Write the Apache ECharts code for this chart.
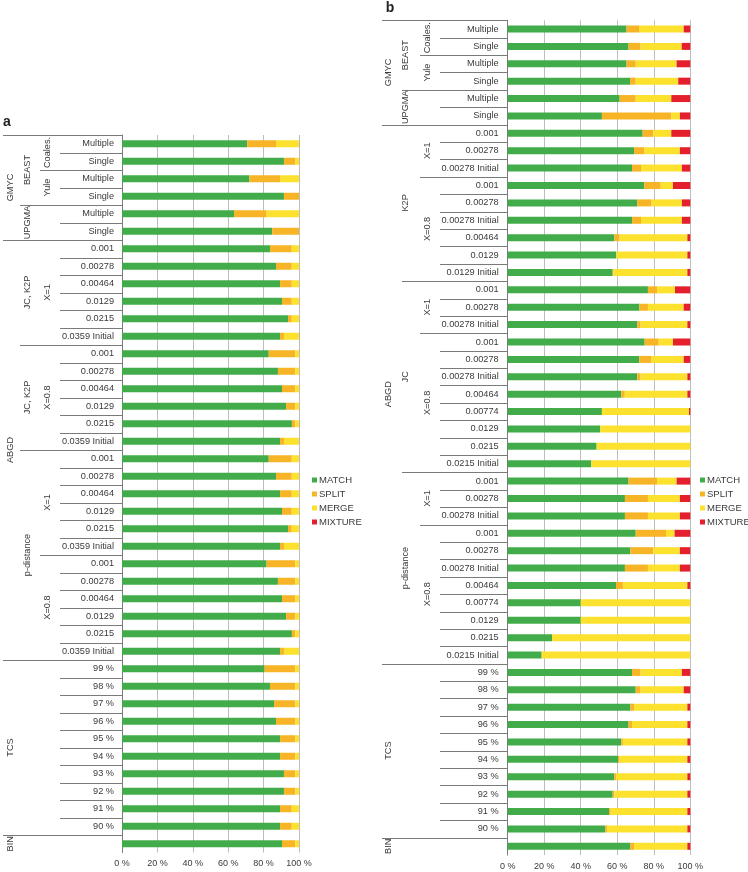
<!DOCTYPE html>
<html>
<head>
<meta charset="utf-8">
<script src="https://cdn.jsdelivr.net/npm/echarts@6/dist/echarts.min.js"></script>
<style>html,body{margin:0;padding:0;background:#fff}#main{width:748px;height:872px}</style>
</head>
<body>
<div id="main"></div>
<script>
// ---------- Panel a data ----------
const aCategories = ['Multiple','Single','Multiple','Single','Multiple','Single',
  '0.001','0.00278','0.00464','0.0129','0.0215','0.0359 Initial',
  '0.001','0.00278','0.00464','0.0129','0.0215','0.0359 Initial',
  '0.001','0.00278','0.00464','0.0129','0.0215','0.0359 Initial',
  '0.001','0.00278','0.00464','0.0129','0.0215','0.0359 Initial',
  '99 %','98 %','97 %','96 %','95 %','94 %','93 %','92 %','91 %','90 %',''];
const aMatch = [70.8,91.5,71.9,91.5,63.3,84.9,
  83.6,87.0,89.3,90.4,93.8,89.3,
  82.9,88.1,90.4,92.7,96.0,89.3,
  82.9,87.0,89.3,90.4,93.8,89.3,
  81.7,88.1,90.4,92.7,96.0,89.3,
  80.6,83.6,85.9,87.0,89.3,89.3,91.5,91.5,89.3,89.3,90.4];
const aSplit = [16.2,6.4,17.4,8.5,18.4,15.1,
  12.3,8.9,6.6,5.5,2.1,2.2,
  15.0,9.8,7.5,5.2,1.9,2.2,
  13.0,8.9,6.6,5.5,2.1,2.2,
  16.2,9.8,7.5,5.2,1.9,2.2,
  17.3,14.3,12.0,10.9,8.6,8.6,6.4,6.4,6.6,6.6,7.5];
const aMerge = [13.0,2.1,10.7,0,18.3,0,
  4.1,4.1,4.1,4.1,4.1,8.5,
  2.1,2.1,2.1,2.1,2.1,8.5,
  4.1,4.1,4.1,4.1,4.1,8.5,
  2.1,2.1,2.1,2.1,2.1,8.5,
  2.1,2.1,2.1,2.1,2.1,2.1,2.1,2.1,4.1,4.1,2.1];
const aMixture = [0,0,0,0,0,0, 0,0,0,0,0,0, 0,0,0,0,0,0, 0,0,0,0,0,0, 0,0,0,0,0,0, 0,0,0,0,0,0,0,0,0,0,0];
const aLevel1 = [['GMYC',0,5],['ABGD',6,29],['TCS',30,39],['BIN',40,40]];
const aLevel2 = [['BEAST',0,3],['UPGMA',4,5],['JC, K2P',6,11],['JC, K2P',12,17],['p-distance',18,29]];
const aLevel3 = [['Coales.',0,1],['Yule',2,3],['X=1',6,11],['X=0.8',12,17],['X=1',18,23],['X=0.8',24,29]];

// ---------- Panel b data ----------
const bCategories = ['Multiple','Single','Multiple','Single','Multiple','Single',
  '0.001','0.00278','0.00278 Initial',
  '0.001','0.00278','0.00278 Initial','0.00464','0.0129','0.0129 Initial',
  '0.001','0.00278','0.00278 Initial',
  '0.001','0.00278','0.00278 Initial','0.00464','0.00774','0.0129','0.0215','0.0215 Initial',
  '0.001','0.00278','0.00278 Initial',
  '0.001','0.00278','0.00278 Initial','0.00464','0.00774','0.0129','0.0215','0.0215 Initial',
  '99 %','98 %','97 %','96 %','95 %','94 %','93 %','92 %','91 %','90 %',''];
const bMatch = [65.1,66.2,65.1,67.0,61.3,51.6,
  73.9,69.2,68.1,
  74.8,71.0,68.1,58.4,59.5,57.5,
  76.8,72.1,71.0,
  75.0,72.1,71.0,62.2,51.6,50.7,48.7,45.8,
  66.2,64.2,64.2,
  70.1,67.2,64.2,59.3,40.0,40.0,24.3,18.6,
  68.1,70.1,67.2,66.2,62.2,60.4,58.4,57.5,55.5,53.5,67.2];
const bSplit = [6.8,6.6,5.0,3.1,8.8,38.0,
  5.8,5.6,4.9,
  9.0,7.8,4.9,2.9,0,0.3,
  5.0,4.7,1.8,
  7.7,6.7,1.8,1.9,0,0,0,0,
  15.6,12.6,12.6,
  16.6,12.5,12.6,3.8,0,0,0,0,
  4.7,2.7,2.0,1.9,0.9,0.9,0.9,0.9,0.9,0.9,2.0];
const bMerge = [24.5,22.5,22.4,23.3,19.5,4.7,
  9.9,19.5,22.4,
  6.7,16.6,22.4,37.1,38.9,40.6,
  9.8,19.6,25.6,
  7.8,17.6,25.6,34.3,47.7,49.3,51.3,54.2,
  10.7,17.5,17.5,
  4.7,14.6,17.5,35.3,60.0,60.0,75.7,81.4,
  22.6,23.6,29.2,30.3,35.3,37.1,39.1,40.0,42.0,44.0,29.2];
const bMixture = [3.6,4.7,7.5,6.6,10.4,5.7,
  10.4,5.7,4.6,
  9.5,4.6,4.6,1.6,1.6,1.6,
  8.4,3.6,1.6,
  9.5,3.6,1.6,1.6,0.7,0,0,0,
  7.5,5.7,5.7,
  8.6,5.7,5.7,1.6,0,0,0,0,
  4.6,3.6,1.6,1.6,1.6,1.6,1.6,1.6,1.6,1.6,1.6];
const bLevel1 = [['GMYC',0,5],['ABGD',6,36],['TCS',37,46],['BIN',47,47]];
const bLevel2 = [['BEAST',0,3],['UPGMA',4,5],['K2P',6,14],['JC',15,25],['p-distance',26,36]];
const bLevel3 = [['Coales.',0,1],['Yule',2,3],['X=1',6,8],['X=0.8',9,14],['X=1',15,17],['X=0.8',18,25],['X=1',26,28],['X=0.8',29,36]];

const xTicks = [0,20,40,60,80,100];
const seriesNames = ['MATCH','SPLIT','MERGE','MIXTURE'];
const colors = ['#43AC4A','#F6B426','#FCE12E','#E3202B'];

const FONT = 'Liberation Sans, Arial, sans-serif';
const TXT = '#3a3a3a';

const chart = echarts.init(document.getElementById('main'));

function xAxisCfg(g){
  return {gridIndex:g,type:'value',min:xTicks[0],max:xTicks[xTicks.length-1],interval:20,
    axisLabel:{formatter:'{value} %',fontSize:9,fontFamily:FONT,color:TXT,margin:7},
    splitLine:{show:true,lineStyle:{color:'#bdbdbd',width:1}},
    axisLine:{show:false},axisTick:{show:false}};
}
function yAxisCfg(g,cats,margin){
  return {gridIndex:g,type:'category',data:cats,inverse:true,
    axisLine:{show:true,lineStyle:{color:'#7a7a7a',width:1}},
    axisTick:{show:false},
    axisLabel:{interval:0,fontSize:9.2,fontFamily:FONT,color:TXT,margin:margin}};
}
function mkSeries(g,stack,arrs){
  return arrs.map((d,i)=>({name:seriesNames[i],type:'bar',stack:stack,xAxisIndex:g,yAxisIndex:g,
    data:d,barWidth:7,itemStyle:{color:colors[i]},emphasis:{disabled:true}}));
}
function legendCfg(left,top){
  return {left:left,top:top,orient:'vertical',icon:'rect',itemWidth:5,itemHeight:5,itemGap:4,
    data:seriesNames,textStyle:{fontSize:9.5,fontFamily:FONT,color:TXT,padding:[0,0,0,-3]}};
}

const option = {
  animation:false,
  grid:[{left:122,top:135,width:177,height:717.5},{left:507.7,top:20.3,width:182.6,height:834.7}],
  xAxis:[xAxisCfg(0),xAxisCfg(1)],
  yAxis:[yAxisCfg(0,aCategories,8),yAxisCfg(1,bCategories,9)],
  legend:[legendCfg(307,470),legendCfg(695,470)],
  series:[...mkSeries(0,'a',[aMatch,aSplit,aMerge,aMixture]),...mkSeries(1,'b',[bMatch,bSplit,bMerge,bMixture])]
};
chart.setOption(option);

function groupIdx(levels,row){
  for(let i=0;i<levels.length;i++){ if(row>=levels[i][1] && row<=levels[i][2]) return i; }
  return -1;
}
function buildTable(axisIdx,n,levels,labelXs,lineStarts,axisX){
  const els=[];
  const y0=chart.convertToPixel({yAxisIndex:axisIdx},0);
  const y1=chart.convertToPixel({yAxisIndex:axisIdx},1);
  const step=y1-y0;
  for(let k=0;k<n;k++){
    let lvl=3;
    if(k===0) lvl=0;
    else {
      for(let L=0;L<3;L++){
        if(groupIdx(levels[L],k)!==groupIdx(levels[L],k-1) || (groupIdx(levels[L],k)>=0 && levels[L][groupIdx(levels[L],k)][1]===k)){lvl=L;break;}
      }
    }
    const yc=chart.convertToPixel({yAxisIndex:axisIdx},k);
    const yb=Math.round(yc-step/2)+0.5;
    els.push({type:'line',silent:true,shape:{x1:lineStarts[lvl],y1:yb,x2:axisX,y2:yb},style:{stroke:'#7a7a7a',lineWidth:1}});
  }
  for(let L=0;L<3;L++){
    levels[L].forEach(g=>{
      const ya=chart.convertToPixel({yAxisIndex:axisIdx},g[1]);
      const yz=chart.convertToPixel({yAxisIndex:axisIdx},g[2]);
      els.push({type:'text',silent:true,x:labelXs[L],y:(ya+yz)/2,rotation:Math.PI/2,
        style:{text:g[0],fontSize:9.2,fontFamily:FONT,fill:TXT,align:'center',verticalAlign:'middle'}});
    });
  }
  return els;
}
const aAxisX=chart.convertToPixel({xAxisIndex:0},0);
const bAxisX=chart.convertToPixel({xAxisIndex:1},0);
const graphics=[
  ...buildTable(0,aCategories.length,[aLevel1,aLevel2,aLevel3],[10,27,47],[3,20,40,60],aAxisX),
  ...buildTable(1,bCategories.length,[bLevel1,bLevel2,bLevel3],[388,405,427],[382,402,420,440],bAxisX),
  {type:'text',silent:true,x:7,y:122,style:{text:'a',fontSize:14,fontWeight:'bold',fontFamily:FONT,fill:'#222',align:'center',verticalAlign:'middle'}},
  {type:'text',silent:true,x:390,y:8,style:{text:'b',fontSize:14,fontWeight:'bold',fontFamily:FONT,fill:'#222',align:'center',verticalAlign:'middle'}}
];
chart.setOption({graphic:graphics});
</script>
</body>
</html>
